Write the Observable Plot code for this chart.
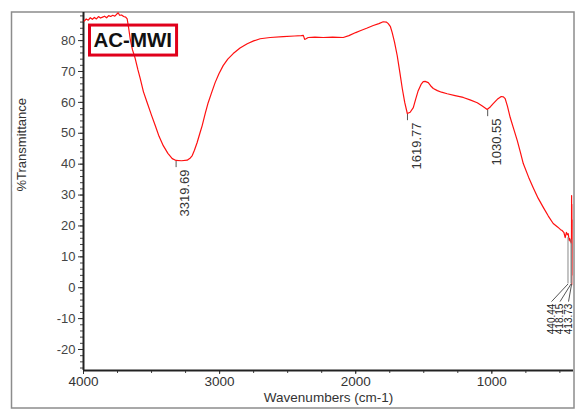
<!DOCTYPE html>
<html><head><meta charset="utf-8">
<script src="https://cdn.jsdelivr.net/npm/d3@7"></script>
<script src="https://cdn.jsdelivr.net/npm/@observablehq/plot@0.6"></script>
<style>
html,body{margin:0;padding:0;background:#fff;}
#chart{width:577px;height:409px;overflow:hidden}
</style></head><body><div id="chart"></div>
<script>
// ---- data ----
const wavenumber = [3995,3980,3965,3950,3935,3920,3905,3890,3875,3860,3845,3830,3815,3800,3785,3770,3755,3745,3735,3720,3705,3690,3679,3668,3657,3640,3620,3600,3583,3560,3532,3500,3473,3445,3414,3380,3348,3320,3280,3238,3215,3201,3185,3165,3145,3128,3105,3084,3060,3033,3005,2974,2940,2900,2850,2797,2750,2702,2629,2533,2450,2400,2385,2375,2365,2349,2300,2239,2170,2092,2050,2000,1967,1920,1871,1830,1798,1775,1761,1745,1732,1715,1695,1675,1658,1640,1621,1600,1577,1560,1541,1520,1504,1490,1467,1450,1430,1400,1370,1328,1270,1210,1160,1107,1070,1034,1010,990,960,931,915,902,885,865,840,813,790,769,730,696,660,622,585,549,515,495,483,470,461,452,445,439,432,428,422,418,415,414,413,412,411,410];
const transmittance = [86.3,87.0,86.6,87.4,86.9,87.5,87.0,87.8,87.3,87.6,87.9,87.4,88.1,87.8,88.2,87.9,88.6,89.0,88.2,88.3,87.8,87.6,87.0,84.0,80.6,77.0,74.2,70.5,67.7,63.5,59.9,55.8,52.5,49.0,46.0,43.5,41.8,41.2,41.1,41.3,42.0,42.8,44.5,47.0,50.0,52.5,56.5,59.9,63.0,66.4,69.3,71.9,74.0,75.8,77.6,79.0,79.9,80.6,81.0,81.3,81.5,81.6,81.7,80.4,80.6,81.0,81.1,81.0,81.1,81.0,81.6,82.6,83.2,84.0,84.9,85.5,86.1,86.0,85.5,84.5,82.6,79.5,75.1,69.5,64.5,60.0,56.4,56.8,58.3,61.0,63.8,65.8,66.7,66.8,66.4,65.4,64.5,63.8,63.3,62.8,62.2,61.6,60.8,59.9,58.8,57.7,58.6,59.6,61.0,61.9,61.8,61.2,58.7,55.1,51.5,47.6,43.8,40.2,35.8,32.4,29.0,26.0,23.2,20.8,19.6,18.8,18.5,17.8,16.2,17.9,17.2,17.5,15.4,15.9,14.8,15.5,14.2,29.8,1.0,27.0,4.0,22.0];

const peakWn = [3319.69, 1619.77, 1030.55];
const peakT = [41.2, 56.4, 57.7];
const peakLabels = ["3319.69", "1619.77", "1030.55"];

const lowPeakWn = [440.44, 418.15, 413.73];
const lowPeakT = [16.2, 15.5, 14.2];
const lowPeakLabels = ["440.44", "418.15", "413.73"];

const xTicks = [4000, 3000, 2000, 1000];
const yTicks = [-20, -10, 0, 10, 20, 30, 40, 50, 60, 70, 80];
const sampleName = "AC-MWI";
const xLabel = "Wavenumbers (cm-1)";
const yLabel = "%Transmittance";

// ---- layout ----
const W = 577, H = 409;
const M = {top: 12, right: 4, bottom: 39, left: 83};
const xDomain = [4000, 400];
const yDomain = [-26.8, 89.1];
const xMinor = d3.range(500, 4001, 250);
const yMinor = d3.range(-26, 89, 2);
const FONT = "'Liberation Sans', Arial, Helvetica, sans-serif";

const spectrum = wavenumber.map((w, i) => ({wn: w, t: transmittance[i]}));
const peaks = peakWn.map((w, i) => ({wn: w, t: peakT[i], label: peakLabels[i]}));
const xs = Plot.scale({x: {domain: xDomain, range: [M.left, W - M.right]}});
const leaderBase = 1.2, leaderEnd = -4.5;
const lowPeaks = lowPeakWn.map((w, i) => ({wn: w, t: lowPeakT[i], label: lowPeakLabels[i], lx: xs.invert(551 + 8.5 * i)}));

const fmt = d => String(d);

const chart = Plot.plot({
  width: W, height: H,
  marginTop: M.top, marginRight: M.right, marginBottom: M.bottom, marginLeft: M.left,
  x: {domain: xDomain},
  y: {domain: yDomain},
  style: {fontFamily: FONT, fontSize: "13px", color: "#333", background: "white"},
  marks: [
    Plot.axisY(yMinor, {tickSize: 3, tickFormat: () => "", label: null, stroke: "#444"}),
    Plot.axisY(yTicks, {tickSize: 5, tickPadding: 3, tickFormat: fmt, label: null, fontSize: 13, fill: "#444", stroke: "#333"}),
    Plot.axisX(xMinor, {tickSize: 3, tickFormat: () => "", label: null, stroke: "#444"}),
    Plot.axisX(xTicks, {tickSize: 4, tickPadding: 2, tickFormat: fmt, label: null, fontSize: 13.5, fill: "#333", stroke: "#333"}),
    Plot.ruleX([xDomain[0]], {stroke: "#222", strokeWidth: 2}),
    Plot.ruleY([yDomain[0]], {stroke: "#222", strokeWidth: 2}),
    Plot.line(spectrum, {x: "wn", y: "t", stroke: "#ff1010", strokeWidth: 1.2}),
    // main peak markers
    Plot.ruleX(peaks, {x: "wn", y1: d => d.t, y2: d => d.t - 2, stroke: "#555", dy: 1}),
    Plot.text(peaks, {x: "wn", y: "t", text: "label", rotate: -90, textAnchor: "end", lineAnchor: "middle", dx: 9, dy: 9, fontSize: 13, fill: "#333"}),
    // low-wavenumber peak markers
    Plot.ruleX(lowPeaks, {x: "wn", y1: d => d.t, y2: () => leaderBase, stroke: "#888"}),
    Plot.link(lowPeaks, {x1: "wn", y1: () => leaderBase, x2: "lx", y2: () => leaderEnd, stroke: "#555"}),
    Plot.text(lowPeaks, {x: "lx", y: () => leaderEnd, text: "label", rotate: -90, textAnchor: "end", lineAnchor: "middle", dy: 2, fontSize: 10, fill: "#222"}),
    // titles
    Plot.text([xLabel], {text: d => d, frameAnchor: "bottom", dy: 31, fontSize: 13.5, fill: "#333"}),
    Plot.text([yLabel], {text: d => d, frameAnchor: "left", dx: -62, rotate: -90, fontSize: 13, fill: "#333", stroke: "white", strokeWidth: 9}),
    Plot.text([sampleName], {text: d => d, frameAnchor: "top-left", textAnchor: "start", lineAnchor: "top", dx: 10, dy: 20, fontSize: 20.5, fontWeight: "bold", fill: "#111"})
  ]
});

document.getElementById("chart").appendChild(chart);

// outer frame and sample-name box
const ns = "http://www.w3.org/2000/svg";
const frame = document.createElementNS(ns, "rect");
frame.setAttribute("x", 11.5); frame.setAttribute("y", 12);
frame.setAttribute("width", 562.5); frame.setAttribute("height", 396);
frame.setAttribute("fill", "none"); frame.setAttribute("stroke", "#8c8c8c"); frame.setAttribute("stroke-width", 1.5);
const firstMark = Array.from(chart.children).find(c => c.tagName.toLowerCase() !== "style");
chart.insertBefore(frame, firstMark);

const nameText = Array.from(chart.querySelectorAll("text")).find(t => t.textContent === sampleName);
if (nameText) {
  const r = nameText.getBoundingClientRect();
  const s = chart.getBoundingClientRect();
  const box = document.createElementNS(ns, "rect");
  box.setAttribute("x", r.left - s.left - 4); box.setAttribute("y", r.top - s.top - 3);
  box.setAttribute("width", r.width + 8.5); box.setAttribute("height", r.height + 7);
  box.setAttribute("fill", "none"); box.setAttribute("stroke", "#e0001b"); box.setAttribute("stroke-width", 3);
  chart.appendChild(box);
}
</script></body></html>
